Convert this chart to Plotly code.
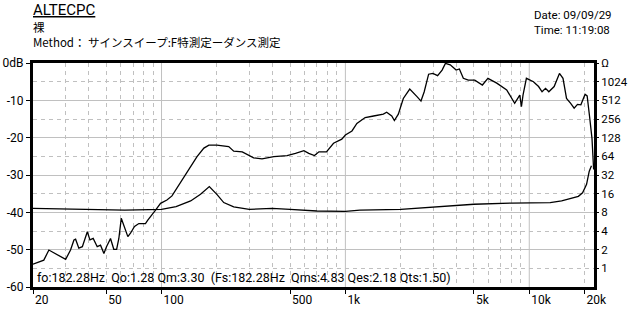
import math
import plotly.graph_objects as go

# ---------------- data ----------------
spl_freq = [20, 22.9, 24.4, 26.0, 30.1, 32, 33.4, 34.1, 35.5, 37.1, 39.5, 40.8, 42.5, 44.7,
            46.6, 48.6, 50.2, 52.8, 55.0, 57, 58.6, 60.4, 61.9, 63.7, 65.6, 67.8, 71.3, 75.3,
            81.8, 84.2, 89.0, 92.8, 98.8, 107, 114, 124, 135, 156, 170, 181, 200, 232, 247,
            275, 317, 352, 408, 482, 535, 595, 632, 679, 718, 789, 862, 956, 1000, 1086,
            1155, 1281, 1424, 1609, 1677, 1787, 1847, 1941, 2066, 2239, 2452, 2577, 2684,
            2836, 2992, 3174, 3358, 3500, 3718, 4003, 4170, 4380, 4660, 5057, 5560, 5960,
            6660, 7540, 8330, 8880, 9070, 9250, 9650, 10540, 11240, 11740, 12260, 12780,
            13660, 14600, 15260, 15950, 16800, 17550, 18300, 19090, 20120, 20650, 21290,
            21940, 22400]
spl_db = [-53.9, -52.8, -50.1, -50.8, -52.6, -50.1, -47.4, -47.2, -49.6, -49.2, -45.2, -47.4,
          -47.0, -49.2, -48.8, -51.0, -49.2, -47.0, -49.9, -49.9, -47.0, -41.6, -43.0, -44.7,
          -46.5, -45.6, -43.8, -43.0, -43.0, -42.1, -40.7, -39.4, -37.6, -36.7, -35.6, -32.7,
          -30.0, -25.1, -22.8, -22.0, -22.0, -22.4, -23.6, -23.8, -25.4, -25.7, -25.1, -24.8,
          -24.2, -23.5, -24.2, -24.8, -23.8, -23.8, -21.5, -20.4, -19.3, -18.2, -16.2, -14.6,
          -14.2, -13.7, -13.2, -14.2, -15.4, -13.7, -9.5, -7.0, -9.0, -10.2, -7.7, -3.0, -2.8,
          -3.4, -1.9, -0.1, -0.5, -1.9, -1.6, -4.1, -4.6, -4.6, -5.9, -4.1, -5.4, -7.2, -10.8,
          -8.6, -11.7, -8.6, -4.1, -5.0, -6.3, -7.7, -6.8, -7.7, -6.3, -2.8, -4.1, -9.5,
          -10.8, -12.1, -11.1, -11.2, -8.4, -8.8, -14.4, -20.2, -28.5]

imp_freq = [20, 40, 63, 100, 120, 144, 163, 182, 200, 218, 247, 300, 400, 500, 700, 1000,
            1200, 2000, 3000, 5000, 8000, 10000, 13000, 15000, 17000, 18500, 19500, 20500,
            21200, 21800]
imp_ohm = [9.3, 8.8, 8.7, 8.9, 9.9, 12.2, 15.6, 20.8, 15.6, 11.5, 9.8, 8.9, 9.3, 8.9, 8.4,
           8.3, 8.7, 8.9, 9.6, 10.8, 11.3, 11.5, 11.5, 12.2, 13.3, 14.5, 16.5, 22.6, 36.8, 45]

x_tick_vals = [20, 50, 100, 500, 1000, 5000, 10000, 20000]
x_tick_text = ["20", "50", "100", "500", "1k", "5k", "10k", "20k"]
x_major_grid = [100, 1000, 10000]
x_minor_grid = [30, 40, 50, 60, 70, 80, 90,
                200, 300, 400, 500, 600, 700, 800, 900,
                2000, 3000, 4000, 5000, 6000, 7000, 8000, 9000, 20000]
db_tick_vals = [0, -10, -20, -30, -40, -50, -60]
db_tick_text = ["0dB", "-10", "-20", "-30", "-40", "-50", "-60"]
db_minor = [-5, -15, -25, -35, -45, -55]
ohm_tick_vals = [1, 2, 4, 8, 16, 32, 64, 128, 256, 512, 1024, 2048]
ohm_tick_text = ["1", "2", "4", "8", "16", "32", "64", "128", "256", "512", "1024", "Ω"]

title_text = "ALTECPC"
header_lines = ["裸", "Method： サインスイープ:F特測定ーダンス測定"]
stamp_lines = ["Date: 09/09/29", "Time: 11:19:08"]
param_text = "fo:182.28Hz  Qo:1.28 Qm:3.30  (Fs:182.28Hz  Qms:4.83 Qes:2.18 Qts:1.50)"

# ---------------- figure ----------------
FONT = "Roboto, DejaVu Sans"
JFONT = "Noto Sans CJK JP"
GRID = "#c0c0c0"
L, R, T, B = 33, 35, 63, 29
W, H = 629, 316
PW, PH = W - L - R, H - T - B


def px(xp):
    return (xp - L) / PW


def py(yp):
    return (H - B - yp) / PH


fig = go.Figure()
fig.add_trace(go.Scatter(x=spl_freq, y=spl_db, mode="lines",
                         line=dict(color="black", width=1.3), xaxis="x", yaxis="y",
                         showlegend=False, hoverinfo="skip"))
fig.add_trace(go.Scatter(x=imp_freq, y=imp_ohm, mode="lines",
                         line=dict(color="black", width=1.3), xaxis="x", yaxis="y2",
                         showlegend=False, hoverinfo="skip"))

shapes = [dict(type="line", xref="x", yref="paper", x0=v, x1=v, y0=0, y1=1,
               line=dict(color=GRID, width=1), layer="below") for v in x_major_grid]

fig.update_layout(
    width=W, height=H,
    margin=dict(l=L, r=R, t=T, b=B),
    paper_bgcolor="white", plot_bgcolor="white",
    font=dict(family=FONT, size=12, color="black"),
    shapes=shapes,
    xaxis=dict(type="log", range=[math.log10(20), math.log10(22500)],
               tickvals=x_tick_vals, ticktext=x_tick_text, showgrid=False,
               ticks="outside", ticklen=4, tickcolor="black",
               ticklabelposition="outside right",
               showline=True, linewidth=3, linecolor="black", mirror=True,
               zeroline=False, automargin=False,
               minor=dict(tickvals=x_minor_grid, showgrid=True, gridcolor=GRID,
                          griddash="4px,4px", gridwidth=1, ticks=""),
               tickfont=dict(family=FONT, size=12)),
    yaxis=dict(range=[-60, 0], tickvals=db_tick_vals, ticktext=db_tick_text,
               showgrid=True, gridcolor=GRID, gridwidth=1,
               ticks="outside", ticklen=4, tickcolor="black",
               showline=True, linewidth=3, linecolor="black", mirror=True,
               zeroline=False, automargin=False,
               minor=dict(tickvals=db_minor, showgrid=True, gridcolor=GRID,
                          griddash="4px,4px", gridwidth=1, ticks=""),
               tickfont=dict(family=FONT, size=12)),
    yaxis2=dict(type="log", overlaying="y", side="right",
                range=[math.log10(0.5), math.log10(2048)],
                tickvals=ohm_tick_vals, ticktext=ohm_tick_text,
                showgrid=False, zeroline=False, showline=False, automargin=False,
                ticks="outside", ticklen=4, tickcolor="black",
                tickfont=dict(family=FONT, size=11.5)),
)

annos = [
    dict(text=title_text, x=px(32), y=py(10), font=dict(family=FONT, size=15, lineposition="under")),
    dict(text="<br>".join(header_lines), x=px(32), y=py(34.5), font=dict(family=JFONT, size=11.5)),
    dict(text="<br>".join(stamp_lines), x=px(533), y=py(23), font=dict(family=FONT, size=11.5)),
    dict(text=param_text, x=px(36), y=py(277), font=dict(family=FONT, size=12.5)),
]
for a in annos:
    fig.add_annotation(xref="paper", yref="paper", xanchor="left", yanchor="middle",
                       align="left", showarrow=False, borderpad=0, **a)

fig.write_html("out.html")
